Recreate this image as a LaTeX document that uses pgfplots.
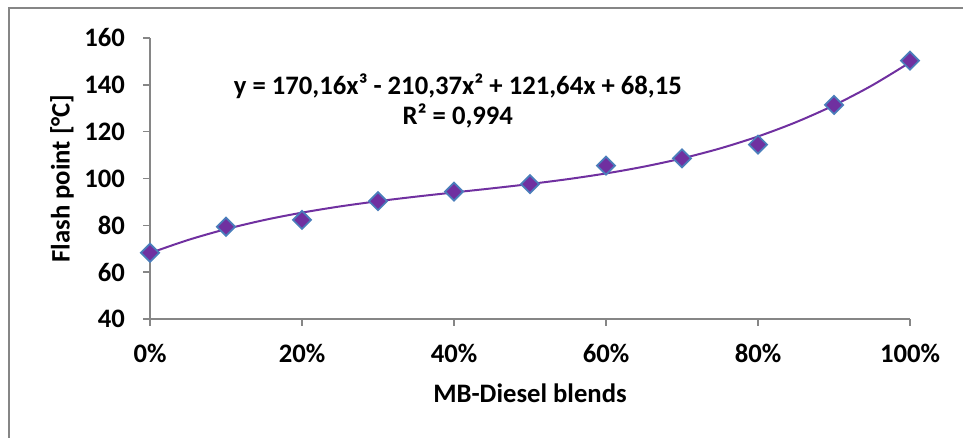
\documentclass[border=0pt]{standalone}
\usepackage{pgfplots}
\pgfplotsset{compat=1.18}
\usepackage{fontspec}
\setmainfont{Carlito}
\definecolor{mpurple}{HTML}{7030A0}
\definecolor{medge}{HTML}{4A7EBB}
\definecolor{axgray}{HTML}{868686}
\begin{document}
\begin{tikzpicture}[x=0.75pt,y=0.75pt]
\useasboundingbox (0,0) rectangle (963,438);
\draw[axgray, line width=1.2pt] (9,-10) -- (9,430) -- (980,430);
\begin{axis}[
  at={(112.5pt,89.25pt)}, anchor=south west,
  scale only axis, width=570pt, height=210.75pt,
  xmin=0, xmax=1, ymin=40, ymax=160,
  xtick={0,0.2,0.4,0.6,0.8,1},
  xticklabels={0\%,20\%,40\%,60\%,80\%,100\%},
  ytick={40,60,80,100,120,140,160},
  axis x line*=bottom, axis y line*=left,
  axis line style={axgray, line width=1.5pt},
  tick style={axgray, line width=1.2pt},
  tick align=outside, major tick length=5.25pt,
  /pgf/number format/assume math mode=true,
  tick label style={font=\bfseries\fontsize{20}{23}\selectfont, black},
  yticklabel style={xshift=-10pt},
  xticklabel style={yshift=-10pt},
  label style={font=\bfseries\fontsize{20}{23}\selectfont},
  xlabel={MB-Diesel blends},
  ylabel={Flash point [°C]},
  xlabel style={at={(axis description cs:0.5,-0.2633)}, anchor=center},
  ylabel style={at={(axis description cs:-0.1158,0.5)}, anchor=center},
  clip=false,
]
\addplot[mpurple, line width=1.5pt, smooth, no marks] coordinates {
(0,68.15) (0.05,73.73) (0.1,78.38) (0.15,82.24) (0.2,85.42) (0.25,88.07)
(0.3,90.30) (0.35,92.25) (0.4,94.04) (0.45,95.79) (0.5,97.65) (0.55,99.73)
(0.6,102.16) (0.65,105.07) (0.7,108.58) (0.75,112.83) (0.8,117.95)
(0.85,124.05) (0.9,131.27) (0.95,139.74) (1,149.58)};
\addplot[only marks, mark=square*, mark size=4.8pt,
  mark options={fill=mpurple, draw=medge, line width=1.3pt, rotate=45}] coordinates {
(0,68.3) (0.1,79.4) (0.2,82.3) (0.3,90.3) (0.4,94.4) (0.5,97.6)
(0.6,105.5) (0.7,108.6) (0.8,114.5) (0.9,131.4) (1,150.3)};
\node[font=\bfseries\fontsize{20}{22.5}\selectfont, align=center, anchor=center]
  at (axis cs:0.405,133.2) {y = 170,16x³ - 210,37x² + 121,64x + 68,15\\R² = 0,994};
\end{axis}
\end{tikzpicture}
\end{document}
